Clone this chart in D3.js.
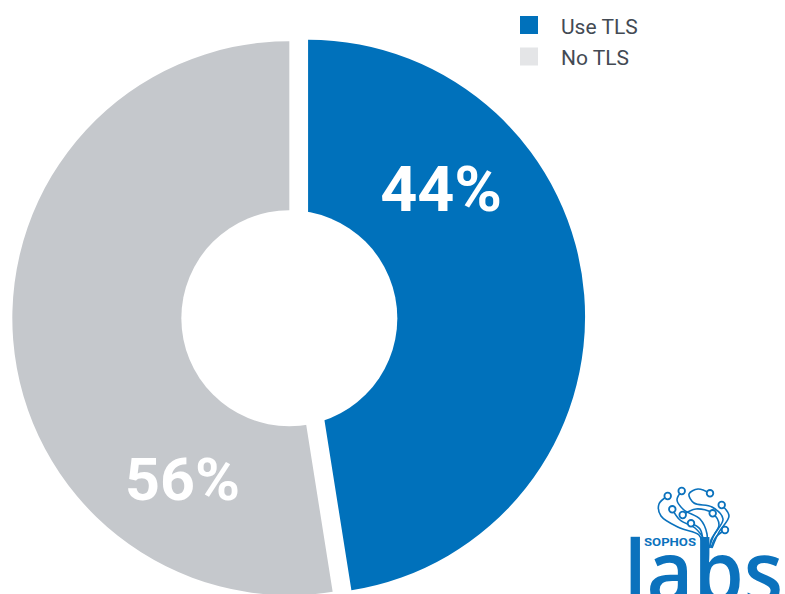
<!DOCTYPE html>
<html>
<head>
<meta charset="utf-8">
<script src="https://cdn.jsdelivr.net/npm/d3@7"></script>
<style>
  html, body { margin: 0; padding: 0; background: #fff; }
  svg { display: block; }
</style>
</head>
<body>
<div id="chart"></div>
<script>
// Share of slices as drawn in the picture, and the printed labels
const categories = ["Use TLS", "No TLS"];
const sliceValues = [47.5, 52.5];
const sliceLabels = ["44%", "56%"];
const sliceColors = ["#0071bb", "#c5c8cc"];
const legendColors = ["#0071bb", "#e4e5e7"];

const width = 785, height = 594;
const cx = 298.7, cy = 317.5;
const outerR = 277, holeR = 108, explode = 9.4;

const svg = d3.select("#chart").append("svg")
    .attr("width", width)
    .attr("height", height);

const pie = d3.pie().sort(null).value(d => d);
const arcs = pie(sliceValues);
const arc = d3.arc().innerRadius(0).outerRadius(outerR);

// offset of each exploded slice
function offset(a) {
    const mid = (a.startAngle + a.endAngle) / 2;
    return [explode * Math.sin(mid), -explode * Math.cos(mid)];
}

const g = svg.append("g").attr("transform", `translate(${cx},${cy})`);

g.selectAll("path.slice")
    .data(arcs)
    .enter()
    .append("path")
    .attr("class", "slice")
    .attr("d", arc)
    .attr("fill", (d, i) => sliceColors[i])
    .attr("transform", d => `translate(${offset(d)})`);

// white hole, sits on the grey slice centre
const greyOff = offset(arcs[1]);
g.append("circle")
    .attr("cx", greyOff[0])
    .attr("cy", greyOff[1])
    .attr("r", holeR)
    .attr("fill", "#fff");

// labels: angle (deg from top) and distance from slice centre
const labelPos = [[46, 185], [213.6, 193]];
const labelSize = [63, 59];
const labelWidth = [122, 115];
g.selectAll("text.pct")
    .data(arcs)
    .enter()
    .append("text")
    .attr("class", "pct")
    .attr("x", (d, i) => offset(d)[0] + labelPos[i][1] * Math.sin(labelPos[i][0] * Math.PI / 180))
    .attr("y", (d, i) => offset(d)[1] - labelPos[i][1] * Math.cos(labelPos[i][0] * Math.PI / 180) + labelSize[i] * 0.711 / 2)
    .attr("text-anchor", "middle")
    .attr("font-family", "Roboto, 'DejaVu Sans', sans-serif")
    .attr("font-weight", 700)
    .attr("font-size", (d, i) => labelSize[i])
    .attr("textLength", (d, i) => labelWidth[i])
    .attr("lengthAdjust", "spacingAndGlyphs")
    .attr("fill", "#fff")
    .text((d, i) => sliceLabels[i]);

// legend
const legend = svg.append("g").attr("transform", "translate(520,16)");
const item = legend.selectAll("g")
    .data(categories)
    .enter()
    .append("g")
    .attr("transform", (d, i) => `translate(0,${i * 31.5})`);
item.append("rect")
    .attr("width", 18)
    .attr("height", 18)
    .attr("fill", (d, i) => legendColors[i]);
item.append("text")
    .attr("x", 41)
    .attr("y", 17.5)
    .attr("font-family", "Roboto, sans-serif")
    .attr("font-size", 21)
    .attr("fill", "#434a53")
    .text(d => d);

// SophosLabs logo
const logo = svg.append("g");
const blue = "#0b72bd";
const nodes = [[667.7, 496], [681.7, 491], [710, 493.3], [721.7, 505], [672.3, 509.3],
               [682.7, 515], [712.7, 513.3], [691, 523.3], [725, 530]];
const wires = [
    [[667.7, 496], [659, 504], [661, 516], [680, 528], [699, 535], [703, 548]],
    [[681.7, 491], [677, 500], [684, 510], [700, 519], [707, 534], [706, 548]],
    [[710, 493.3], [698, 489], [689, 494], [694, 503], [712, 507], [723, 519], [714, 535], [709, 548]],
    [[721.7, 505], [729, 516], [719, 532], [712, 548]],
    [[672.3, 509.3], [680, 520], [695, 528], [704, 540], [705, 548]],
    [[682.7, 515], [696, 509], [712.7, 513.3], [719, 525], [711, 540], [710, 548]],
    [[691, 523.3], [700, 529], [703, 540], [704, 548]],
    [[725, 530], [716, 537], [711, 548]]
];
const wire = d3.line().curve(d3.curveCatmullRom.alpha(0.5));
logo.selectAll("path")
    .data(wires)
    .enter()
    .append("path")
    .attr("d", wire)
    .attr("fill", "none")
    .attr("stroke", blue)
    .attr("stroke-width", 1.6);
logo.selectAll("circle")
    .data(nodes)
    .enter()
    .append("circle")
    .attr("cx", d => d[0])
    .attr("cy", d => d[1])
    .attr("r", 3.3)
    .attr("fill", "#fff")
    .attr("stroke", blue)
    .attr("stroke-width", 1.8);
logo.append("text")
    .attr("x", 644)
    .attr("y", 545.5)
    .attr("font-family", "Roboto, sans-serif")
    .attr("font-weight", 700)
    .attr("font-size", 11)
    .attr("textLength", 52)
    .attr("lengthAdjust", "spacingAndGlyphs")
    .attr("fill", blue)
    .text("SOPHOS");
logo.append("text")
    .attr("x", 624)
    .attr("y", 603)
    .attr("font-family", "'Open Sans', Lato, sans-serif")
    .attr("font-weight", 600)
    .attr("font-size", 86)
    .attr("textLength", 159)
    .attr("lengthAdjust", "spacingAndGlyphs")
    .attr("fill", blue)
    .text("labs");
</script>
</body>
</html>
